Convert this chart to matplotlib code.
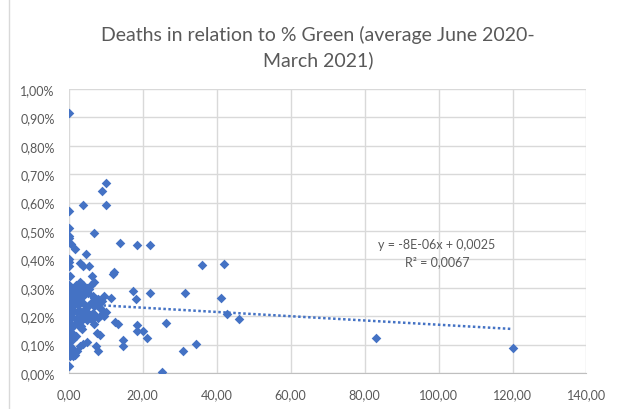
import numpy as np
import matplotlib
matplotlib.use("Agg")
import matplotlib.pyplot as plt
from matplotlib.ticker import FuncFormatter, MultipleLocator
from matplotlib.lines import Line2D

# % Green (x) and deaths in % (y)
green = [
    0.0, 0.0, 4.0, 9.0, 10.0, 10.0, 6.9,
    0.0, 0.0, 0.0, 0.6, 1.8,
    13.9, 18.6, 21.9,
    4.7, 3.1, 4.0, 5.6, 0.0, 0.0, 0.0,
    11.9, 12.3, 6.3, 6.9, 0.4,
    17.3, 22.0, 11.5, 18.2, 31.5, 7.4, 8.0,
    12.6, 13.5, 18.6, 26.3, 6.9, 3.1, 3.6,
    7.6, 8.5, 18.6, 20.2, 21.1, 14.8, 14.6,
    5.1, 3.1, 3.8, 7.4, 8.1, 1.8,
    25.4, 30.9, 34.5, 36.0, 42.0, 41.1, 42.8, 46.1,
    83.1, 120.0,
    # column at zero
    0.1, 0.0, 0.3, 0.0, 0.2, 0.0, 0.4, 0.1, 0.0, 0.3,
    0.0, 0.2, 0.5, 0.0, 0.1, 0.3, 0.0, 0.2, 0.0, 0.4,
    0.1, 0.0, 0.3, 0.2, 0.0, 0.4, 0.1,
    # cluster
    1.0, 1.5, 2.0, 2.5, 3.0, 3.5, 4.0, 4.5, 5.0, 5.5, 6.0,
    1.2, 2.0, 2.8, 3.6, 4.2, 5.2, 6.5, 7.0, 8.0, 9.0, 9.5,
    1.0, 1.8, 2.5, 3.2, 4.0, 4.8, 5.5, 6.2, 7.0, 7.8, 8.5, 9.2, 10.0,
    1.5, 2.2, 3.0, 3.8, 4.5, 5.0, 5.8, 6.5, 7.2, 8.0, 8.8, 9.5,
    2.0, 3.0, 4.0, 5.0, 6.0, 1.5, 2.5, 3.5,
    0.8, 0.8, 0.6, 0.5, 0.7, 1.0, 1.2, 2.0,
    1.0, 1.5, 2.2, 0.5, 1.3, 0.7,
]
deaths_pct = [
    0.915, 0.57, 0.59, 0.64, 0.67, 0.59, 0.493,
    0.51, 0.483, 0.474, 0.454, 0.437,
    0.458, 0.452, 0.452,
    0.419, 0.386, 0.378, 0.378, 0.39, 0.375, 0.40,
    0.349, 0.357, 0.343, 0.32, 0.343,
    0.29, 0.281, 0.264, 0.26, 0.281, 0.26, 0.25,
    0.18, 0.172, 0.169, 0.175, 0.172, 0.161, 0.155,
    0.141, 0.134, 0.148, 0.148, 0.124, 0.117, 0.096,
    0.11, 0.096, 0.102, 0.096, 0.076, 0.063,
    0.002, 0.076, 0.102, 0.381, 0.385, 0.265, 0.207, 0.19,
    0.122, 0.087,
    0.31, 0.30, 0.29, 0.28, 0.27, 0.26, 0.25, 0.24, 0.23, 0.22,
    0.21, 0.20, 0.19, 0.18, 0.17, 0.16, 0.15, 0.14, 0.13, 0.12,
    0.11, 0.10, 0.09, 0.08, 0.067, 0.06, 0.024,
    0.30, 0.29, 0.31, 0.30, 0.32, 0.305, 0.31, 0.29, 0.30, 0.295, 0.31,
    0.27, 0.265, 0.28, 0.27, 0.275, 0.28, 0.27, 0.265, 0.26, 0.255, 0.27,
    0.25, 0.245, 0.24, 0.25, 0.245, 0.23, 0.24, 0.245, 0.235, 0.24, 0.23, 0.22, 0.215,
    0.22, 0.215, 0.22, 0.21, 0.205, 0.215, 0.20, 0.21, 0.20, 0.195, 0.205, 0.20,
    0.19, 0.195, 0.19, 0.185, 0.19, 0.17, 0.175, 0.165,
    0.20, 0.23, 0.26, 0.28, 0.16, 0.14, 0.12, 0.13,
    0.085, 0.075, 0.079, 0.07, 0.06, 0.09,
]
deaths = np.array(deaths_pct) / 100

# trendline as printed on the chart
slope = -7.5e-06
intercept = 0.00245
eq_text = "y = -8E-06x + 0,0025\nR² = 0,0067"

blue = "#4472C4"
grey = "#595959"

plt.rcParams['font.family'] = ['Lato', 'DejaVu Sans']

fig = plt.figure(figsize=(6.24, 4.10), dpi=100)
ax = fig.add_axes([0.1098, 0.0878, 0.8301, 0.6927])

ax.scatter(green, deaths, marker='D', s=24, color=blue, linewidths=0, zorder=3)

tx = np.array([0, max(green)])
ax.plot(tx, slope * tx + intercept, color=blue, linestyle=(0, (1, 1)), linewidth=1.8, zorder=2)

ax.set_xlim(0, 140)
ax.set_ylim(0, 0.01)
ax.xaxis.set_major_locator(MultipleLocator(20))
ax.yaxis.set_major_locator(MultipleLocator(0.001))
ax.xaxis.set_major_formatter(FuncFormatter(lambda v, p: f"{v:.2f}".replace('.', ',')))
ax.yaxis.set_major_formatter(FuncFormatter(lambda v, p: f"{v * 100:.2f}%".replace('.', ',')))
ax.tick_params(length=0, labelsize=9, labelcolor=grey, pad=10)
ax.tick_params(axis='x', pad=11)
ax.grid(True, color="#d9d9d9", linewidth=1)
ax.set_axisbelow(True)
for s in ax.spines.values():
    s.set_visible(False)
ax.spines['bottom'].set_visible(True)
ax.spines['bottom'].set_color("#bfbfbf")

ax.text(99.6, 0.00424, eq_text, ha='center', va='center', fontsize=9, color=grey,
        linespacing=1.5)

fig.text(0.51, 0.884, "Deaths in relation to % Green (average June 2020-\nMarch 2021)",
         ha='center', va='center', fontsize=14, color=grey, linespacing=1.45)

fig.add_artist(Line2D([9 / 624, 9 / 624], [0, 1], color="#d9d9d9", linewidth=1))

fig.savefig("out.png", dpi=100)
